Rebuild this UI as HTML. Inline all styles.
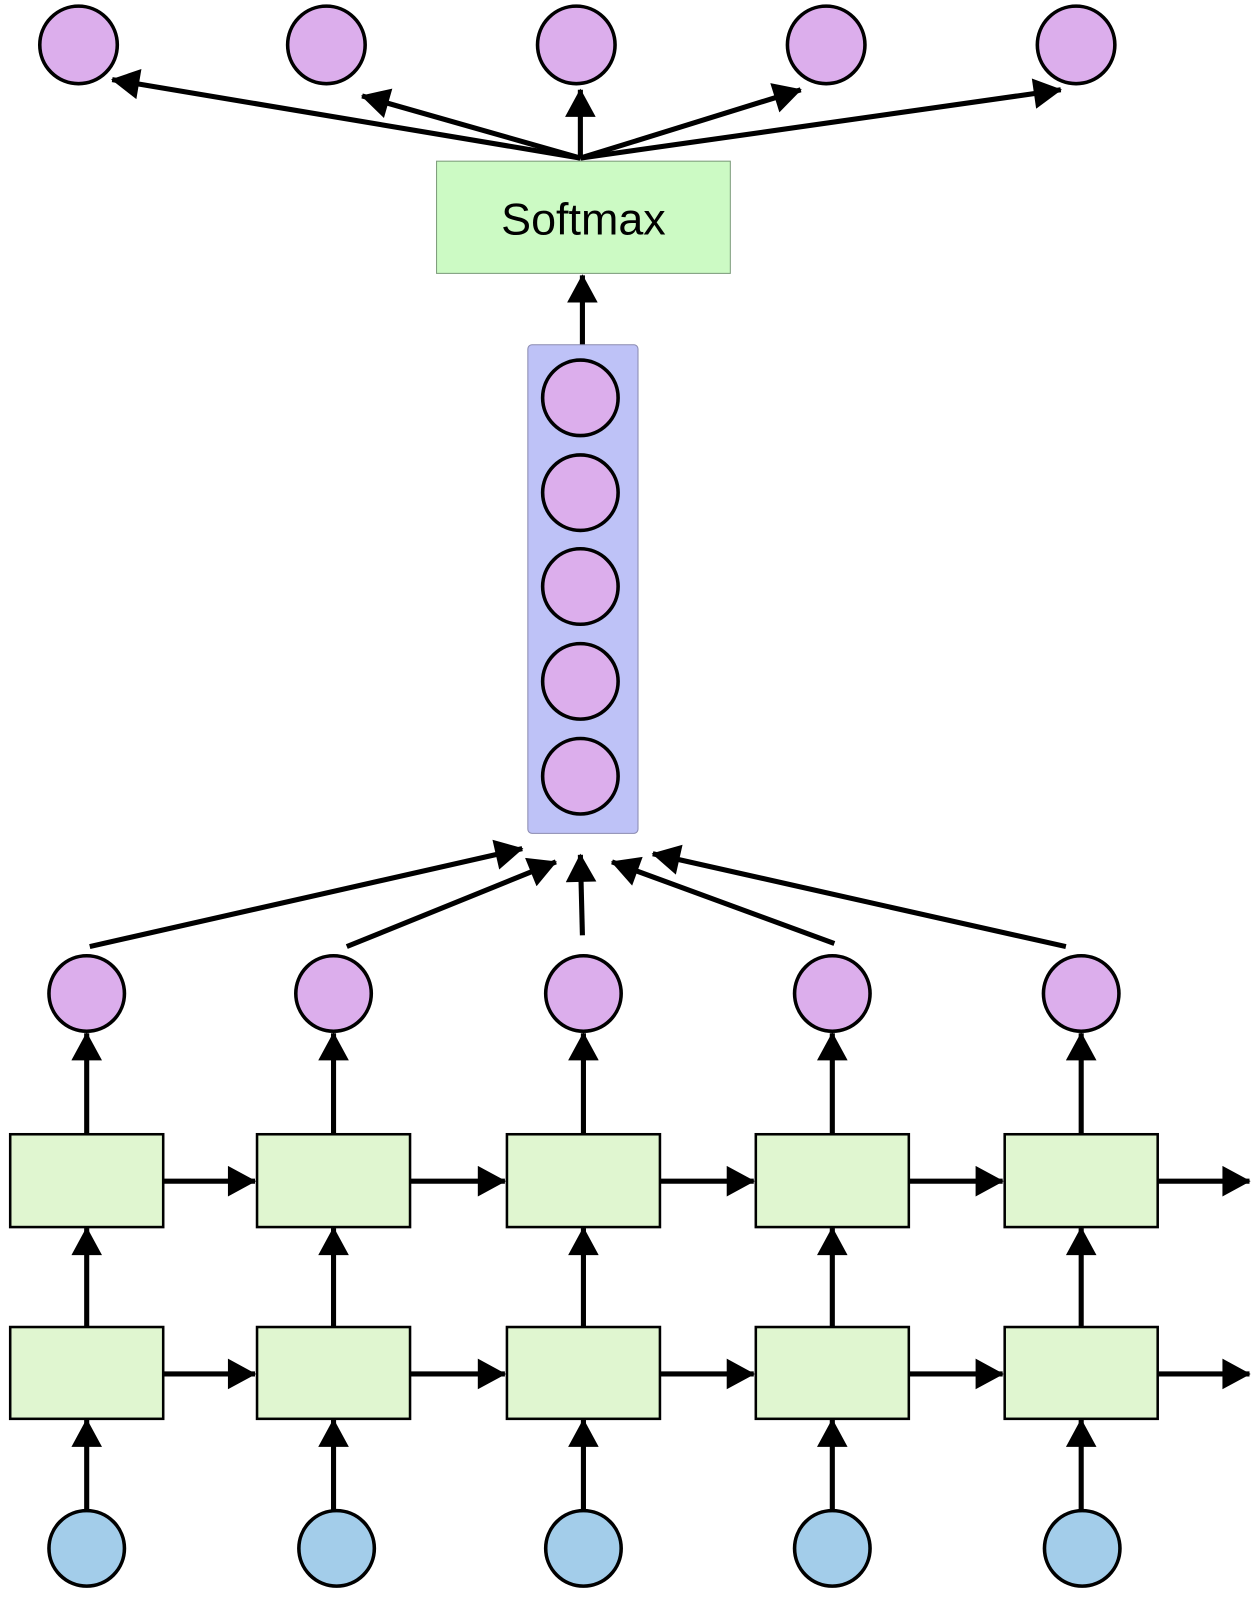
<!DOCTYPE html>
<html><head><meta charset="utf-8"><style>html,body{margin:0;padding:0;background:#fff}svg{display:block}</style></head>
<body>
<svg width="1255" height="1600" viewBox="0 0 1230.4 1568.6" xmlns="http://www.w3.org/2000/svg">
<defs>
<marker id="a" markerUnits="userSpaceOnUse" markerWidth="30" markerHeight="30" viewBox="0 0 24 26" refX="23" refY="13" orient="auto">
<path d="M0,0 L24,13 L0,26 Z" fill="#000"/>
</marker>
</defs>
<g stroke="#000" stroke-width="5" fill="none" marker-end="url(#a)">
<!-- top fan -->
<line x1="569" y1="155" x2="110" y2="78"/>
<line x1="569" y1="155" x2="355" y2="94"/>
<line x1="569" y1="155" x2="569" y2="88"/>
<line x1="569" y1="155" x2="785" y2="88"/>
<line x1="569" y1="155" x2="1040" y2="88"/>
<line x1="571" y1="338" x2="571" y2="270"/>
<!-- lower fan -->
<line x1="88" y1="928" x2="512" y2="832"/>
<line x1="340" y1="928" x2="545" y2="845"/>
<line x1="571" y1="917" x2="569" y2="838"/>
<line x1="818" y1="925" x2="600" y2="845"/>
<line x1="1045" y1="928" x2="640" y2="837"/>
</g>
<g fill="#dcaeec" stroke="#000" stroke-width="3.5">
<circle cx="77" cy="44" r="38"/><circle cx="320" cy="44" r="38"/><circle cx="565" cy="44" r="38"/><circle cx="810" cy="44" r="38"/><circle cx="1055" cy="44" r="38"/>
</g>
<rect x="428" y="158" width="288" height="110" fill="#ccfac4" stroke="#7a9a78" stroke-width="1"/>
<text x="572" y="230" text-anchor="middle" font-family="Liberation Sans, sans-serif" font-size="44" fill="#000">Softmax</text>
<rect x="517.5" y="338" width="108" height="479" rx="4" fill="#bec2f7" stroke="#8a8ab0" stroke-width="1"/>
<g fill="#dcaeec" stroke="#000" stroke-width="3.5">
<circle cx="569" cy="390" r="37"/><circle cx="569" cy="483" r="37"/><circle cx="569" cy="575" r="37"/><circle cx="569" cy="668" r="37"/><circle cx="569" cy="761" r="37"/>
<circle cx="85" cy="974" r="37"/><circle cx="327" cy="974" r="37"/><circle cx="572" cy="974" r="37"/><circle cx="816" cy="974" r="37"/><circle cx="1060" cy="974" r="37"/>
</g>
<g stroke="#000" stroke-width="5" fill="none" marker-end="url(#a)">
<line x1="85" y1="1112" x2="85" y2="1013"/><line x1="327" y1="1112" x2="327" y2="1013"/><line x1="572" y1="1112" x2="572" y2="1013"/><line x1="816" y1="1112" x2="816" y2="1013"/><line x1="1060" y1="1112" x2="1060" y2="1013"/>
<line x1="85" y1="1301" x2="85" y2="1204"/><line x1="327" y1="1301" x2="327" y2="1204"/><line x1="572" y1="1301" x2="572" y2="1204"/><line x1="816" y1="1301" x2="816" y2="1204"/><line x1="1060" y1="1301" x2="1060" y2="1204"/>
<line x1="85" y1="1481" x2="85" y2="1392"/><line x1="327" y1="1481" x2="327" y2="1392"/><line x1="572" y1="1481" x2="572" y2="1392"/><line x1="816" y1="1481" x2="816" y2="1392"/><line x1="1060" y1="1481" x2="1060" y2="1392"/>
<line x1="160" y1="1158" x2="250" y2="1158"/><line x1="402" y1="1158" x2="495" y2="1158"/><line x1="647" y1="1158" x2="739" y2="1158"/><line x1="891" y1="1158" x2="983" y2="1158"/><line x1="1135" y1="1158" x2="1225" y2="1158"/>
<line x1="160" y1="1347" x2="250" y2="1347"/><line x1="402" y1="1347" x2="495" y2="1347"/><line x1="647" y1="1347" x2="739" y2="1347"/><line x1="891" y1="1347" x2="983" y2="1347"/><line x1="1135" y1="1347" x2="1225" y2="1347"/>
</g>
<g fill="#e0f6d0" stroke="#000" stroke-width="2.5">
<rect x="10" y="1112" width="150" height="91"/><rect x="252" y="1112" width="150" height="91"/><rect x="497" y="1112" width="150" height="91"/><rect x="741" y="1112" width="150" height="91"/><rect x="985" y="1112" width="150" height="91"/>
<rect x="10" y="1301" width="150" height="90"/><rect x="252" y="1301" width="150" height="90"/><rect x="497" y="1301" width="150" height="90"/><rect x="741" y="1301" width="150" height="90"/><rect x="985" y="1301" width="150" height="90"/>
</g>
<g fill="#a3cdea" stroke="#000" stroke-width="3.5">
<circle cx="85" cy="1518" r="37"/><circle cx="330" cy="1518" r="37"/><circle cx="572" cy="1518" r="37"/><circle cx="816" cy="1518" r="37"/><circle cx="1061" cy="1518" r="37"/>
</g>
</svg>
</body></html>
